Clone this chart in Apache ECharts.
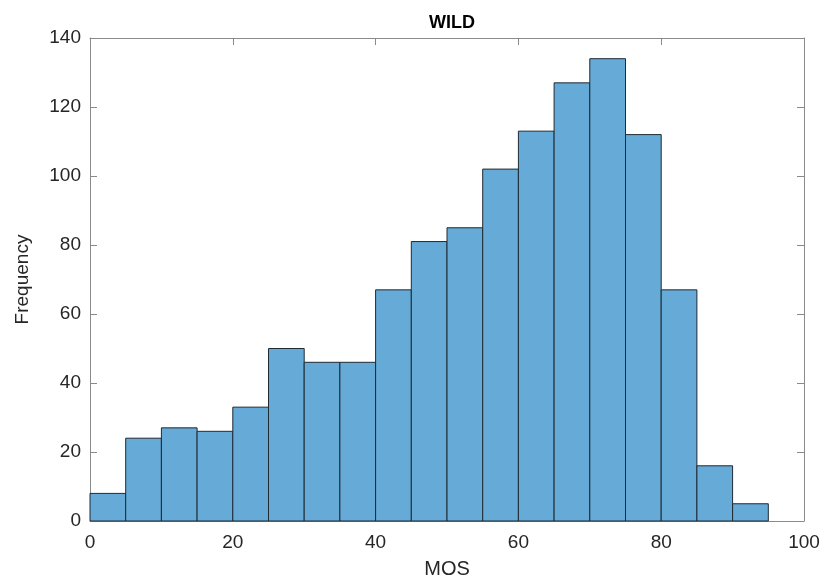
<!DOCTYPE html>
<html>
<head>
<meta charset="utf-8">
<script src="https://cdn.jsdelivr.net/npm/echarts@6/dist/echarts.min.js"></script>
<style>
  html, body { margin: 0; padding: 0; background: #fff; }
  #main { width: 823px; height: 579px; }
</style>
</head>
<body>
<div id="main"></div>
<script>
// histogram bins (MOS), width 5
var binStarts = [0, 5, 10, 15, 20, 25, 30, 35, 40, 45, 50, 55, 60, 65, 70, 75, 80, 85, 90];
var counts = [8, 24, 27, 26, 33, 50, 46, 46, 67, 81, 85, 102, 113, 127, 134, 112, 67, 16, 5];
var binWidth = 5;
var xTicks = [0, 20, 40, 60, 80, 100];
var yTicks = [0, 20, 40, 60, 80, 100, 120, 140];

var textColor = '#262626';
var axisColor = '#8a8a8a';
var font = 'Liberation Sans, Arial, sans-serif';

var chartDom = document.getElementById('main');
var myChart = echarts.init(chartDom);

function boxAxis(pos, extra) {
    var a = {
        type: 'value',
        position: pos,
        interval: 20,
        axisLine: { show: true, onZero: false, lineStyle: { color: axisColor, width: 1 } },
        axisTick: { show: true, inside: true, length: 7, lineStyle: { color: axisColor } },
        axisLabel: { show: false },
        splitLine: { show: false }
    };
    return Object.assign(a, extra);
}

var option = {
    animation: false,
    title: {
        text: 'WILD',
        left: 447,
        textAlign: 'center',
        top: 9,
        textStyle: { fontFamily: font, fontSize: 18, fontWeight: 'bold', color: '#000' }
    },
    grid: {
        left: 90,
        right: 19,
        top: 38,
        bottom: 58,
        outerBoundsMode: 'none'
    },
    xAxis: [
        boxAxis('bottom', {
            min: xTicks[0],
            max: xTicks[xTicks.length - 1],
            name: 'MOS',
            nameLocation: 'middle',
            nameGap: 38,
            nameTextStyle: { fontFamily: font, fontSize: 20, color: textColor },
            axisLabel: { show: true, fontFamily: font, fontSize: 19, color: textColor, margin: 12 }
        }),
        boxAxis('top', {
            min: xTicks[0],
            max: xTicks[xTicks.length - 1]
        })
    ],
    yAxis: [
        boxAxis('left', {
            min: yTicks[0],
            max: yTicks[yTicks.length - 1],
            name: 'Frequency',
            nameLocation: 'middle',
            nameGap: 58,
            nameTextStyle: { fontFamily: font, fontSize: 19, color: textColor },
            axisLabel: { show: true, fontFamily: font, fontSize: 19, color: textColor, margin: 9 }
        }),
        boxAxis('right', {
            min: yTicks[0],
            max: yTicks[yTicks.length - 1]
        })
    ],
    series: [
        {
            type: 'custom',
            xAxisIndex: 0,
            yAxisIndex: 0,
            z: 1,
            data: binStarts.map(function (s, i) { return [s, s + binWidth, counts[i]]; }),
            encode: { x: [0, 1], y: 2 },
            renderItem: function (params, api) {
                var p0 = api.coord([api.value(0), 0]);
                var p1 = api.coord([api.value(1), api.value(2)]);
                return {
                    type: 'rect',
                    shape: { x: p0[0], y: p1[1], width: p1[0] - p0[0], height: p0[1] - p1[1] },
                    style: { fill: '#66aad7', stroke: '#1f2a33', lineWidth: 1 }
                };
            }
        }
    ]
};

option && myChart.setOption(option);
</script>
</body>
</html>
